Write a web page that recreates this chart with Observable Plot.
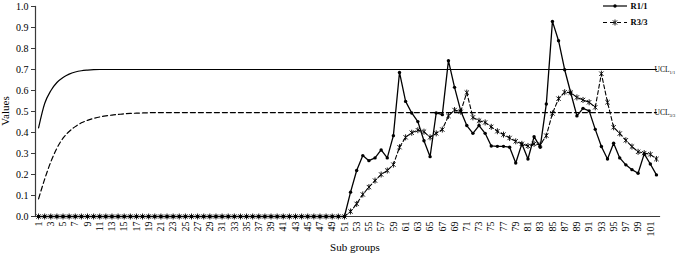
<!DOCTYPE html>
<html>
<head>
<meta charset="utf-8">
<script src="https://cdn.jsdelivr.net/npm/d3@7"></script>
<script src="https://cdn.jsdelivr.net/npm/@observablehq/plot@0.6"></script>
<style>
  html, body { margin: 0; padding: 0; background: #fff; }
  #chart { width: 685px; height: 255px; }
</style>
</head>
<body>
<div id="chart"></div>
<script>
// ---- data ----
const subGroups = d3.range(1, 103); // categories 1..102
const r11 = [
  0,0,0,0,0,0,0,0,0,0, 0,0,0,0,0,0,0,0,0,0,
  0,0,0,0,0,0,0,0,0,0, 0,0,0,0,0,0,0,0,0,0,
  0,0,0,0,0,0,0,0,0,0, 0,
  0.116,0.219,0.290,0.266,0.279,0.317,0.279,0.385,0.686,
  0.548,0.493,0.452,0.361,0.285,0.493,0.485,0.742,0.615,0.504,
  0.433,0.396,0.433,0.396,0.336,0.334,0.334,0.330,0.255,0.346,
  0.274,0.380,0.330,0.536,0.929,0.837,0.699,0.588,0.479,0.515,
  0.503,0.415,0.333,0.274,0.349,0.279,0.246,0.223,0.206,0.298,
  0.250,0.198
];
const r33 = [
  0,0,0,0,0,0,0,0,0,0, 0,0,0,0,0,0,0,0,0,0,
  0,0,0,0,0,0,0,0,0,0, 0,0,0,0,0,0,0,0,0,0,
  0,0,0,0,0,0,0,0,0,0, 0,
  0.024,0.060,0.105,0.140,0.171,0.200,0.219,0.247,0.330,
  0.377,0.399,0.411,0.404,0.377,0.396,0.414,0.479,0.507,0.499,
  0.590,0.472,0.456,0.448,0.427,0.406,0.390,0.374,0.358,0.346,
  0.336,0.346,0.342,0.385,0.491,0.561,0.592,0.590,0.567,0.555,
  0.544,0.520,0.680,0.544,0.425,0.395,0.363,0.333,0.308,0.302,
  0.296,0.274
];
const uclGroups = [1,2,3,4,5,6,7,8,9,10,11,12,13,14,15,16,17,18,19,20,102];
const ucl11 = [0.422,0.538,0.599,0.638,0.662,0.678,0.688,0.694,0.697,0.699,
               0.700,0.700,0.700,0.700,0.700,0.700,0.700,0.700,0.700,0.700,0.700];
const ucl33 = [0.084,0.178,0.260,0.325,0.373,0.405,0.428,0.446,0.458,0.467,
               0.474,0.479,0.483,0.486,0.489,0.491,0.492,0.493,0.494,0.495,0.495];
const yTicks = [0,0.1,0.2,0.3,0.4,0.5,0.6,0.7,0.8,0.9,1.0];
const xTicks = d3.range(1, 102, 2); // 1,3,...,101
const seriesNames = ["R1/1", "R3/3"];
const uclNames = [["UCL", "1/1"], ["UCL", "3/3"]];

// ---- tables ----
const data = subGroups.map((g, i) => ({g, r11: r11[i], r33: r33[i]}));
const ucl = uclGroups.map((g, i) => ({g, u11: ucl11[i], u33: ucl33[i]}));

const asterisk = {
  draw(ctx, size) {
    const r = Math.sqrt(size / Math.PI);
    const d = r * 0.72;
    ctx.moveTo(0, -r); ctx.lineTo(0, r);
    ctx.moveTo(-d, -d); ctx.lineTo(d, d);
    ctx.moveTo(-d, d); ctx.lineTo(d, -d);
  }
};

const font = "'Liberation Serif', 'Times New Roman', serif";
const axisColor = "#3a3a3a";

const chart = Plot.plot({
  width: 685,
  height: 255,
  marginLeft: 35,
  marginRight: 26,
  marginTop: 6,
  marginBottom: 39,
  style: {fontFamily: font, fontSize: "10px", background: "white", color: "black"},
  x: {type: "linear", domain: [0.5, 102.5]},
  y: {domain: [0, 1]},
  marks: [
    Plot.axisY({ticks: yTicks, tickFormat: d => d.toFixed(1), tickSize: 4, tickPadding: 3,
                label: null, fontSize: 10, stroke: axisColor}),
    Plot.axisX({ticks: xTicks, tickFormat: d => String(d), tickRotate: -90, tickSize: 0,
                tickPadding: 5, label: null, fontSize: 10}),
    Plot.frame({anchor: "left", stroke: axisColor, strokeWidth: 1.2}),
    Plot.frame({anchor: "bottom", stroke: axisColor, strokeWidth: 1.2}),
    Plot.line(ucl, {x: "g", y: "u11", curve: "monotone-x", stroke: "black", strokeWidth: 1.2}),
    Plot.line(ucl, {x: "g", y: "u33", curve: "monotone-x", stroke: "black", strokeWidth: 1.2,
                    strokeDasharray: "5,3"}),
    Plot.line(data, {x: "g", y: "r11", stroke: "black", strokeWidth: 1.3}),
    Plot.dot(data, {x: "g", y: "r11", r: 1.7, fill: "black", stroke: "none"}),
    Plot.line(data, {x: "g", y: "r33", stroke: "black", strokeWidth: 1.1, strokeDasharray: "4,2.5"}),
    Plot.dot(data, {x: "g", y: "r33", r: 3, symbol: asterisk, fill: "none", stroke: "black",
                    strokeWidth: 0.9})
  ]
});

document.getElementById("chart").appendChild(chart);

// ---- annotations: axis titles, UCL labels, legend ----
const svg = d3.select(chart);
const xs = chart.scale("x"), ys = chart.scale("y");

svg.append("text")
  .attr("transform", "translate(8.5,111) rotate(-90)")
  .attr("text-anchor", "middle")
  .attr("font-family", font).attr("font-size", 11)
  .text("Values");

svg.append("text")
  .attr("x", 355).attr("y", 251)
  .attr("text-anchor", "middle")
  .attr("font-family", font).attr("font-size", 11)
  .text("Sub groups");

[[ucl11, uclNames[0]], [ucl33, uclNames[1]]].forEach(([arr, nm]) => {
  const yv = ys.apply(arr[arr.length - 1]);
  const t = svg.append("text")
    .attr("x", xs.apply(uclGroups[uclGroups.length - 1]) + 9)
    .attr("y", yv + 2.5)
    .attr("font-family", font).attr("font-size", 7.5);
  t.append("tspan").text(nm[0]);
  t.append("tspan").attr("font-size", 4.5).attr("dy", 2).text(nm[1]);
});

// legend
const lg = svg.append("g");
const legendRows = [
  {name: seriesNames[0], y: 6, dash: null, marker: "dot"},
  {name: seriesNames[1], y: 22.5, dash: "4,3", marker: "ast"}
];
legendRows.forEach(row => {
  lg.append("line").attr("x1", 603).attr("x2", 627).attr("y1", row.y).attr("y2", row.y)
    .attr("stroke", "black").attr("stroke-width", 1.2)
    .attr("stroke-dasharray", row.dash);
  if (row.marker === "dot") {
    lg.append("circle").attr("cx", 615).attr("cy", row.y).attr("r", 1.7).attr("fill", "black");
  } else {
    const p = d3.path();
    asterisk.draw(p, 9 * Math.PI);
    lg.append("path").attr("d", p.toString())
      .attr("transform", `translate(615,${row.y})`)
      .attr("fill", "none").attr("stroke", "black").attr("stroke-width", 0.9);
  }
  lg.append("text").attr("x", 639).attr("y", row.y + 2.5)
    .attr("font-family", font).attr("font-size", 8.5).attr("font-weight", "bold")
    .text(row.name);
});
</script>
</body>
</html>
